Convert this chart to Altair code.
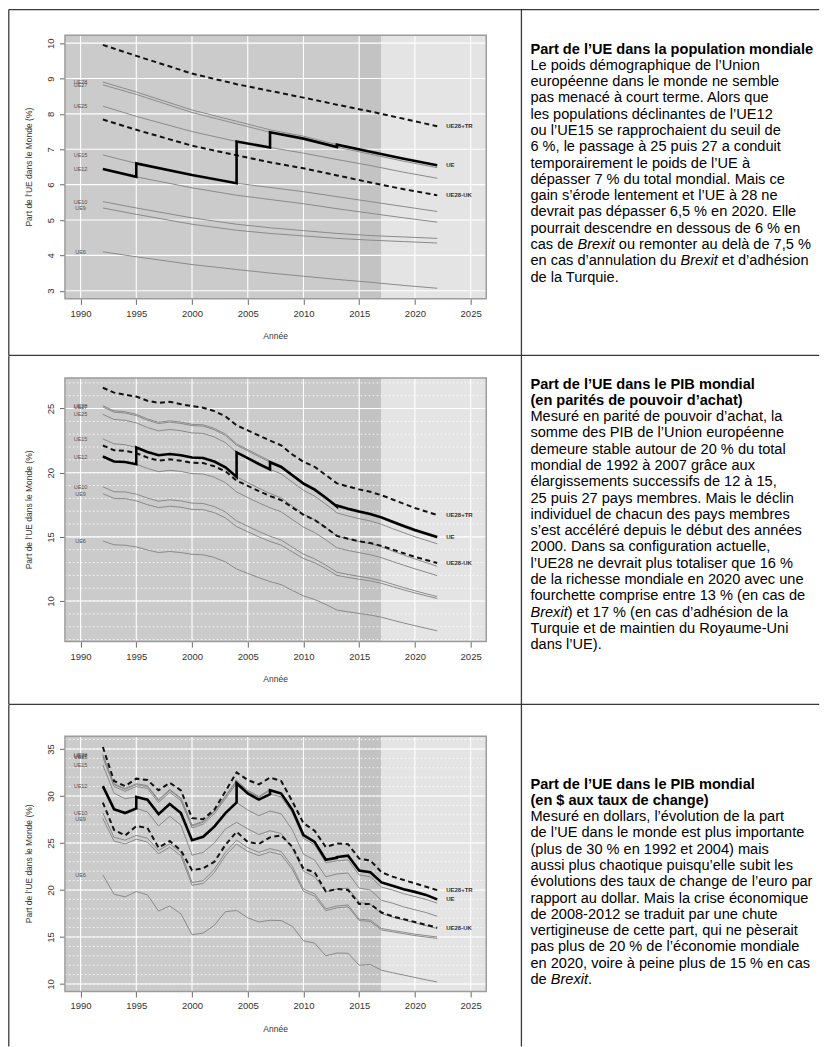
import altair as alt
import pandas as pd

FONT = "Liberation Sans"

# ---------------- data ----------------
X_DOMAIN = [1988.6, 2026.4]
X_TICKS = [1990, 1995, 2000, 2005, 2010, 2015, 2020, 2025]
PERIODS = ["observé", "récent", "projection"]
PERIOD_BOUNDS = [1988.6, 2015, 2017, 2026.4]
MEMBERSHIP = [(1992, "UE12"), (1995, "UE15"), (2004, "UE25"), (2007, "UE27"), (2013, "UE28")]
GRAY = ["UE28", "UE27", "UE25", "UE15", "UE12", "UE10", "UE9", "UE6"]
DASHED = ["UE28+TR", "UE28-UK"]

# Panel 1 : population
P1_YEARS = [1992, 1995, 2000, 2004, 2007, 2010, 2013, 2016, 2019, 2022]
P1 = {
    "UE28":    [8.90, 8.62, 8.11, 7.79, 7.55, 7.37, 7.13, 6.93, 6.73, 6.55],
    "UE27":    [8.82, 8.55, 8.04, 7.72, 7.48, 7.30, 7.06, 6.86, 6.66, 6.48],
    "UE25":    [8.22, 7.93, 7.50, 7.22, 7.05, 6.89, 6.71, 6.54, 6.35, 6.18],
    "UE15":    [6.84, 6.60, 6.27, 6.04, 5.92, 5.80, 5.66, 5.52, 5.38, 5.24],
    "UE12":    [6.44, 6.22, 5.91, 5.70, 5.58, 5.46, 5.32, 5.19, 5.06, 4.94],
    "UE10":    [5.52, 5.34, 5.06, 4.88, 4.78, 4.70, 4.62, 4.56, 4.52, 4.48],
    "UE9":     [5.34, 5.16, 4.88, 4.71, 4.62, 4.55, 4.48, 4.43, 4.39, 4.35],
    "UE6":     [4.10, 3.96, 3.74, 3.60, 3.50, 3.41, 3.32, 3.24, 3.15, 3.07],
    "UE28+TR": [9.95, 9.64, 9.14, 8.84, 8.65, 8.46, 8.26, 8.07, 7.86, 7.65],
    "UE28-UK": [7.84, 7.55, 7.10, 6.83, 6.63, 6.46, 6.26, 6.06, 5.87, 5.70],
}

# Panel 2 : PIB en PPA
YEARS = list(range(1992, 2023))
P2 = {
    "UE28":    [25.22, 24.82, 24.75, 24.55, 24.19, 23.93, 24.04, 23.94, 23.77, 23.73, 23.45, 23.01, 22.24, 21.80, 21.35, 20.92, 20.55, 19.90, 19.25, 18.78, 18.14, 17.45, 17.20, 16.98, 16.79, 16.52, 16.18, 15.85, 15.53, 15.26, 15.00],
    "UE27":    [25.12, 24.72, 24.65, 24.45, 24.09, 23.83, 23.94, 23.84, 23.67, 23.63, 23.35, 22.91, 22.14, 21.70, 21.25, 20.82, 20.45, 19.80, 19.15, 18.68, 18.05, 17.36, 17.11, 16.89, 16.70, 16.43, 16.09, 15.76, 15.44, 15.17, 14.91],
    "UE25":    [24.55, 24.15, 24.08, 23.88, 23.52, 23.26, 23.37, 23.27, 23.10, 23.06, 22.78, 22.34, 21.58, 21.13, 20.68, 20.26, 19.91, 19.27, 18.63, 18.17, 17.55, 16.87, 16.63, 16.42, 16.24, 15.98, 15.64, 15.32, 15.01, 14.74, 14.46],
    "UE15":    [22.63, 22.25, 22.18, 21.97, 21.62, 21.36, 21.46, 21.36, 21.18, 21.14, 20.87, 20.42, 19.68, 19.23, 18.79, 18.38, 18.04, 17.41, 16.79, 16.34, 15.74, 15.07, 14.84, 14.64, 14.47, 14.22, 13.89, 13.58, 13.28, 13.00, 12.71],
    "UE12":    [21.26, 20.87, 20.84, 20.66, 20.33, 20.08, 20.19, 20.10, 19.93, 19.90, 19.65, 19.22, 18.50, 18.07, 17.65, 17.27, 16.95, 16.35, 15.76, 15.34, 14.78, 14.15, 13.94, 13.77, 13.61, 13.38, 13.08, 12.79, 12.51, 12.25, 11.98],
    "UE10":    [18.90, 18.52, 18.50, 18.33, 18.02, 17.78, 17.89, 17.80, 17.63, 17.60, 17.36, 16.94, 16.24, 15.83, 15.42, 15.05, 14.76, 14.20, 13.66, 13.29, 12.80, 12.25, 12.07, 11.92, 11.78, 11.58, 11.31, 11.05, 10.80, 10.57, 10.35],
    "UE9":     [18.37, 18.00, 17.98, 17.81, 17.51, 17.28, 17.39, 17.31, 17.14, 17.12, 16.89, 16.48, 15.80, 15.40, 15.00, 14.64, 14.36, 13.83, 13.31, 12.98, 12.53, 12.00, 11.84, 11.70, 11.57, 11.38, 11.12, 10.87, 10.63, 10.41, 10.20],
    "UE6":     [14.68, 14.38, 14.35, 14.22, 13.98, 13.78, 13.86, 13.78, 13.64, 13.60, 13.40, 13.05, 12.50, 12.15, 11.82, 11.52, 11.28, 10.83, 10.40, 10.12, 9.74, 9.30, 9.16, 9.03, 8.91, 8.74, 8.51, 8.29, 8.08, 7.88, 7.68],
    "UE28+TR": [26.62, 26.24, 26.07, 25.93, 25.61, 25.43, 25.52, 25.34, 25.19, 25.06, 24.80, 24.39, 23.69, 23.30, 22.90, 22.50, 22.13, 21.42, 20.85, 20.46, 19.82, 19.17, 18.92, 18.70, 18.51, 18.25, 17.91, 17.58, 17.25, 16.98, 16.71],
    "UE28-UK": [22.12, 21.75, 21.70, 21.52, 21.18, 20.94, 21.04, 20.94, 20.77, 20.75, 20.50, 20.11, 19.38, 18.98, 18.57, 18.18, 17.87, 17.30, 16.72, 16.32, 15.72, 15.08, 14.85, 14.66, 14.52, 14.30, 14.01, 13.72, 13.44, 13.20, 12.97],
}

# Panel 3 : PIB en $ courants
P3 = {
    "UE28":    [34.4, 31.3, 30.8, 31.3, 31.1, 29.6, 30.7, 29.8, 26.9, 27.3, 28.4, 30.0, 31.65, 30.6, 29.95, 30.7, 30.36, 28.62, 25.93, 25.21, 23.31, 23.5, 23.65, 22.07, 21.89, 20.81, 20.45, 20.09, 19.8, 19.48, 19.0],
    "UE27":    [34.3, 31.2, 30.7, 31.2, 31.0, 29.5, 30.6, 29.7, 26.8, 27.2, 28.3, 29.9, 31.55, 30.5, 29.85, 30.6, 30.26, 28.53, 25.84, 25.12, 23.22, 23.42, 23.57, 22.0, 21.8, 20.73, 20.37, 20.01, 19.72, 19.4, 18.92],
    "UE25":    [34.1, 31.0, 30.5, 31.0, 30.8, 29.3, 30.4, 29.5, 26.6, 27.0, 28.1, 29.7, 31.35, 30.26, 29.61, 30.2, 29.9, 28.2, 25.5, 24.8, 22.9, 23.1, 23.2, 21.6, 21.4, 20.3, 20.0, 19.6, 19.3, 19.0, 18.6],
    "UE15":    [33.3, 30.3, 29.7, 29.9, 29.6, 28.07, 29.15, 28.18, 25.3, 25.66, 26.74, 28.18, 29.3, 28.5, 27.9, 28.4, 28.1, 26.4, 23.8, 23.2, 21.4, 21.7, 21.8, 20.2, 20.0, 18.9, 18.6, 18.2, 17.9, 17.6, 17.2],
    "UE12":    [31.05, 28.6, 28.18, 28.68, 28.3, 26.8, 27.85, 26.9, 23.7, 24.0, 25.0, 26.5, 27.2, 26.5, 25.9, 26.3, 26.0, 24.4, 22.0, 21.4, 19.8, 20.1, 20.2, 18.7, 18.5, 17.5, 17.1, 16.8, 16.5, 16.2, 15.9],
    "UE10":    [28.2, 25.6, 25.3, 25.8, 25.5, 24.2, 24.9, 24.0, 20.8, 21.0, 22.2, 24.0, 25.3, 24.5, 24.0, 24.4, 24.1, 22.5, 20.1, 19.6, 18.0, 18.3, 18.4, 16.9, 16.8, 15.9, 15.7, 15.5, 15.3, 15.15, 15.0],
    "UE9":     [27.6, 25.2, 24.9, 25.4, 25.1, 23.85, 24.55, 23.65, 20.5, 20.7, 21.85, 23.65, 24.9, 24.1, 23.65, 24.05, 23.75, 22.2, 19.85, 19.35, 17.8, 18.1, 18.2, 16.75, 16.65, 15.75, 15.55, 15.35, 15.15, 15.0, 14.85],
    "UE6":     [21.6, 19.55, 19.27, 19.84, 19.48, 17.76, 18.3, 17.47, 15.24, 15.42, 16.25, 17.69, 17.83, 17.04, 16.6, 16.78, 16.75, 16.14, 14.6, 14.35, 13.0, 13.3, 13.27, 12.0, 12.08, 11.47, 11.2, 10.95, 10.7, 10.45, 10.22],
    "UE28+TR": [35.2, 31.6, 31.05, 31.84, 31.7, 30.6, 31.4, 30.6, 27.64, 27.53, 28.53, 30.5, 32.5, 31.7, 31.23, 31.95, 31.59, 29.43, 27.1, 26.3, 24.58, 24.94, 24.87, 23.33, 23.15, 21.89, 21.42, 21.06, 20.7, 20.34, 19.99],
    "UE28-UK": [29.3, 26.4, 25.8, 26.8, 26.6, 24.5, 25.2, 24.2, 22.1, 22.3, 23.0, 24.8, 26.2, 25.1, 24.9, 25.6, 25.8, 24.6, 22.25, 21.9, 19.85, 20.1, 20.0, 18.5, 18.5, 17.6, 17.2, 16.9, 16.6, 16.3, 16.0],
}

Y_LABEL = "Part de l’UE dans le Monde (%)"
X_LABEL = "Année"

HEAD1 = ["Part de l’UE dans la population mondiale"]
BODY1 = [
    "Le poids démographique de l’Union",
    "européenne dans le monde ne semble",
    "pas menacé à court terme. Alors que",
    "les populations déclinantes de l’UE12",
    "ou l’UE15 se rapprochaient du seuil de",
    "6 %, le passage à 25 puis 27 a conduit",
    "temporairement le poids de l’UE à",
    "dépasser 7 % du total mondial. Mais ce",
    "gain s’érode lentement et l’UE à 28 ne",
    "devrait pas dépasser 6,5 % en 2020. Elle",
    "pourrait descendre en dessous de 6 % en",
    "cas de *Brexit* ou remonter au delà de 7,5 %",
    "en cas d’annulation du *Brexit* et d’adhésion",
    "de la Turquie.",
]
HEAD2 = ["Part de l’UE dans le PIB mondial", "(en parités de pouvoir d’achat)"]
BODY2 = [
    "Mesuré en parité de pouvoir d’achat, la",
    "somme des PIB de l’Union européenne",
    "demeure stable autour de 20 % du total",
    "mondial de 1992 à 2007 grâce aux",
    "élargissements successifs de 12 à 15,",
    "25 puis 27 pays membres. Mais le déclin",
    "individuel de chacun des pays membres",
    "s’est accéléré depuis le début des années",
    "2000. Dans sa configuration actuelle,",
    "l’UE28 ne devrait plus totaliser que 16 %",
    "de la richesse mondiale en 2020 avec une",
    "fourchette comprise entre 13 % (en cas de",
    "*Brexit*) et 17 % (en cas d’adhésion de la",
    "Turquie et de maintien du Royaume-Uni",
    "dans l’UE).",
]
HEAD3 = ["Part de l’UE dans le PIB mondial", "(en $ aux taux de change)"]
BODY3 = [
    "Mesuré en dollars, l’évolution de la part",
    "de l’UE dans le monde est plus importante",
    "(plus de 30 % en 1992 et 2004) mais",
    "aussi plus chaotique puisqu’elle subit les",
    "évolutions des taux de change de l’euro par",
    "rapport au dollar. Mais la crise économique",
    "de 2008-2012 se traduit par une chute",
    "vertigineuse de cette part, qui ne pèserait",
    "pas plus de 20 % de l’économie mondiale",
    "en 2020, voire à peine plus de 15 % en cas",
    "de *Brexit*.",
]

# ---------------- layout / style ----------------
W = 421.6
TEXT_SIZE = 14.6
LINE_H = 16.3
ARIAL = {" ": 278, "B": 667, "a": 556, "c": 500, "d": 556, "e": 556, "i": 222,
         "l": 222, "n": 556, "o": 556, "r": 333, "s": 500, "t": 278, "u": 556,
         "x": 500, "’": 222, ")": 333, ".": 278}


def text_width(s, size):
    return sum(ARIAL.get(ch, 556) for ch in s) * size / 1000.0


def long_df(years, series, names):
    rows = []
    for name in names:
        for i, (yr, v) in enumerate(zip(years, series[name])):
            rows.append({"series": name, "year": yr, "value": v, "order": i})
    return pd.DataFrame(rows)


def ue_path(years, series):
    rows = []
    k = 0
    for i, (start, name) in enumerate(MEMBERSHIP):
        end = MEMBERSHIP[i + 1][0] if i + 1 < len(MEMBERSHIP) else years[-1]
        for yr, v in zip(years, series[name]):
            if start <= yr <= end:
                rows.append({"year": yr, "value": v, "order": k})
                k += 1
    return pd.DataFrame(rows)


ONE = pd.DataFrame({"k": [0]})


def text_layers(head, body, x0, y0):
    layers = []
    for i, line in enumerate(head + body):
        bold = i < len(head)
        y = y0 + i * LINE_H
        x = x0
        for j, part in enumerate(line.split("*")):
            if part.strip():
                lead = len(part) - len(part.lstrip(" "))
                layers.append(
                    alt.Chart(ONE).mark_text(
                        text=part.strip(), align="left", baseline="middle",
                        font=FONT, fontSize=TEXT_SIZE,
                        fontWeight="bold" if bold else "normal",
                        fontStyle="italic" if j % 2 == 1 else "normal",
                        color="#000000",
                    ).encode(x=alt.value(x + text_width(" " * lead, TEXT_SIZE)), y=alt.value(y))
                )
            x += text_width(part, TEXT_SIZE)
    return layers


def rule(x1, y1, x2, y2):
    return alt.Chart(ONE).mark_rule(color="#3a3a3a", strokeWidth=1.3).encode(
        x=alt.value(x1), y=alt.value(y1), x2=alt.value(x2), y2=alt.value(y2))


def build_row(years, S, ydom, yticks, minor, plot_h, top_off, head, body, text_y0,
              b_top, b_bot, draw_top, draw_bottom):
    H = plot_h + top_off
    xs = alt.Scale(domain=X_DOMAIN, nice=False, zero=False)
    ys = alt.Scale(domain=ydom, nice=False, zero=False, range=[H, top_off])
    x_axis = alt.Axis(values=X_TICKS, grid=False, domain=False, tickSize=5.5,
                      tickColor="#444", tickWidth=0.8, labelFont=FONT, labelFontSize=9.5,
                      labelColor="#333", labelPadding=4, labelFlush=False,
                      labelOverlap=False, format="d", title=None)
    y_axis = alt.Axis(values=yticks, grid=False, domain=False, tickSize=5.5,
                      tickColor="#444", tickWidth=0.8, labelFont=FONT, labelFontSize=9.5,
                      labelColor="#333", labelAngle=270, labelAlign="center",
                      labelBaseline="bottom", labelPadding=4, labelFlush=False,
                      labelOverlap=False, format="d", title=None)

    def X(f="year"):
        return alt.X(f"{f}:Q", scale=xs, axis=x_axis)

    def Y(f="value"):
        return alt.Y(f"{f}:Q", scale=ys, axis=y_axis)

    bg = pd.DataFrame({
        "period": PERIODS,
        "year": PERIOD_BOUNDS[:-1], "year2": PERIOD_BOUNDS[1:],
        "value": [ydom[0]] * 3, "value2": [ydom[1]] * 3,
    })
    layers = [
        alt.Chart(bg).mark_rect().encode(
            x=X(), x2="year2:Q", y=Y(), y2="value2:Q",
            color=alt.Color("period:N", scale=alt.Scale(domain=PERIODS,
                            range=["#cbcbcb", "#c3c3c3", "#e4e4e4"]), legend=None)),
    ]
    if minor:
        mdf = pd.DataFrame({"value": minor, "year": X_DOMAIN[0], "year2": X_DOMAIN[1]})
        layers.append(alt.Chart(mdf).mark_rule(color="white", strokeWidth=0.9,
                                               strokeDash=[1.5, 2.5]).encode(
            x=X(), x2="year2:Q", y=Y()))
    hdf = pd.DataFrame({"value": yticks, "year": X_DOMAIN[0], "year2": X_DOMAIN[1]})
    layers.append(alt.Chart(hdf).mark_rule(color="white", strokeWidth=1.1).encode(
        x=X(), x2="year2:Q", y=Y()))
    vdf = pd.DataFrame({"year": X_TICKS, "value": ydom[0], "value2": ydom[1]})
    layers.append(alt.Chart(vdf).mark_rule(color="white", strokeWidth=1.1).encode(
        x=X(), y=Y(), y2="value2:Q"))

    gdf = long_df(years, S, GRAY)
    layers.append(alt.Chart(gdf).mark_line(color="#8a8a8a", strokeWidth=1).encode(
        x=X(), y=Y(), detail="series:N", order="order:Q"))
    ddf = long_df(years, S, DASHED)
    layers.append(alt.Chart(ddf).mark_line(color="#111", strokeWidth=2,
                                           strokeDash=[5, 3.5]).encode(
        x=X(), y=Y(), detail="series:N", order="order:Q"))
    layers.append(alt.Chart(ue_path(years, S)).mark_line(color="#000", strokeWidth=2.6).encode(
        x=X(), y=Y(), order="order:Q"))

    fdf = pd.DataFrame({"year": [X_DOMAIN[0]], "year2": [X_DOMAIN[1]],
                        "value": [ydom[0]], "value2": [ydom[1]]})
    layers.append(alt.Chart(fdf).mark_rect(fillOpacity=0, stroke="#9c9c9c",
                                           strokeWidth=1.5).encode(
        x=X(), x2="year2:Q", y=Y(), y2="value2:Q"))

    ldf = pd.DataFrame({"series": GRAY, "year": 1990,
                        "value": [S[n][0] for n in GRAY]})
    layers.append(alt.Chart(ldf).mark_text(font=FONT, fontSize=5.5, color="#555").encode(
        x=X(), y=Y(), text="series:N"))
    rnames = ["UE28+TR", "UE", "UE28-UK"]
    rdf = pd.DataFrame({"series": rnames, "year": years[-1],
                        "value": [S["UE28+TR"][-1], S["UE28"][-1], S["UE28-UK"][-1]]})
    layers.append(alt.Chart(rdf).mark_text(font=FONT, fontSize=6, fontWeight="bold",
                                           color="#333", align="left", dx=9).encode(
        x=X(), y=Y(), text="series:N"))

    layers.append(alt.Chart(ONE).mark_text(text=Y_LABEL, font=FONT, fontSize=8.5,
                                           color="#333", angle=270).encode(
        x=alt.value(-35.5), y=alt.value(top_off + plot_h / 2)))
    layers.append(alt.Chart(ONE).mark_text(text=X_LABEL, font=FONT, fontSize=8.5,
                                           color="#333").encode(
        x=alt.value(W / 2), y=alt.value(H + 37.5)))

    layers += text_layers(head, body, 465.8, text_y0)

    left, right, div = 8 - 64.2, 819 - 64.2, 521 - 64.2
    layers.append(rule(left, b_top, left, b_bot))
    layers.append(rule(div, b_top, div, b_bot))
    if draw_top:
        layers.append(rule(left, b_top, right, b_top))
    if draw_bottom:
        layers.append(rule(left, b_bot, right, b_bot))

    return alt.layer(*layers).properties(width=W, height=H)


row1 = build_row(P1_YEARS, P1, [2.77, 10.22], [3, 4, 5, 6, 7, 8, 9, 10], None,
                 263.7, 0, HEAD1, BODY1, 14.2, 8 - 33.8, 354 - 33.8, True, True)
row2 = build_row(YEARS, P2, [6.84, 27.37], [10, 15, 20, 25], list(range(7, 28)),
                 263.7, 0, HEAD2, BODY2, 6.5, 354 - 376.5, 703 - 376.5, False, True)
row3 = build_row(YEARS, P3, [9.21, 36.36], [10, 15, 20, 25, 30, 35], list(range(10, 37)),
                 255.5, 15.3, HEAD3, BODY3, 63.8, 703 - 719.2, 1045 - 719.2, False, False)

chart = alt.vconcat(row1, row2, row3, spacing=79, bounds="flush").properties(
    padding=0).configure_view(stroke=None)

chart.save("out.html", embed_options={"renderer": "svg", "actions": False})
